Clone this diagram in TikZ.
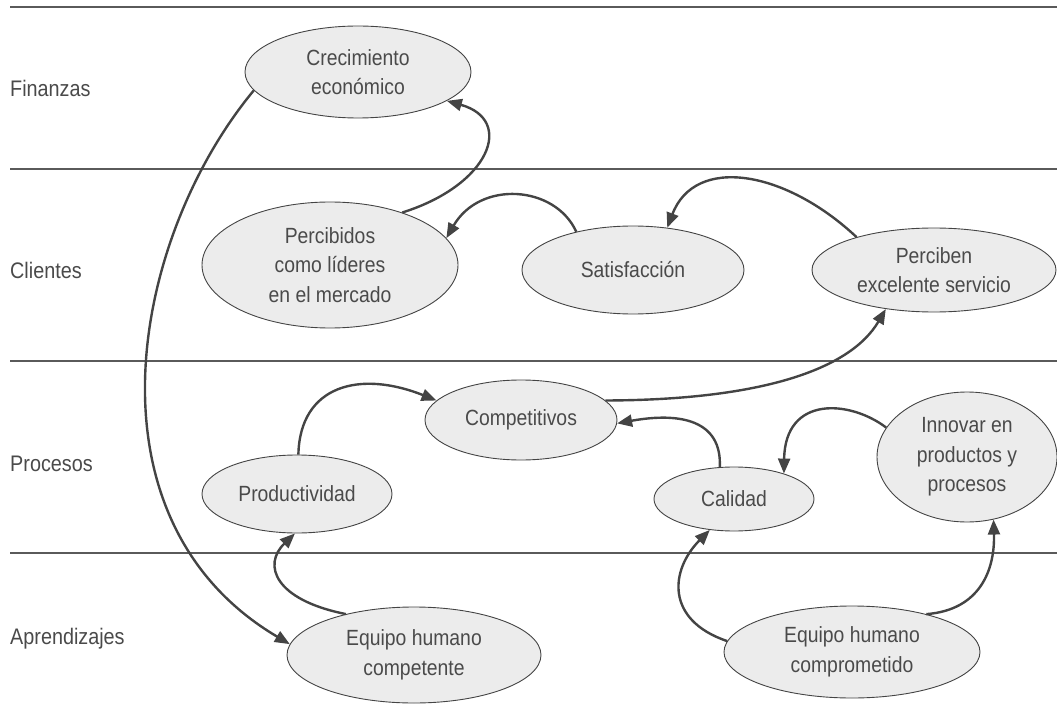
\documentclass[tikz,border=0pt]{standalone}
\usepackage{fontspec}
\setmainfont{Liberation Sans}[FakeStretch=0.88]
\usetikzlibrary{shapes.geometric,arrows.meta}
\definecolor{ink}{HTML}{444444}
\definecolor{ovfill}{HTML}{ECECEC}
\definecolor{lanec}{HTML}{5A5A5A}
\definecolor{txt}{HTML}{4A4A4A}
\begin{document}
\begin{tikzpicture}[x=1pt,y=-1pt,
  oval/.style={ellipse, draw=ink, line width=0.9pt, fill=ovfill, inner sep=0pt,
    align=center, text=txt, font=\fontsize{22}{29.5}\selectfont},
  lane/.style={draw=lanec, line width=2pt},
  lbl/.style={anchor=base west, inner sep=0pt, text=txt, font=\fontsize{22.5}{27}\selectfont},
  conn/.style={draw=ink, line width=2.4pt, -{Triangle[length=15pt,width=12pt]}}]
\useasboundingbox (0,0) rectangle (1057,711);

% lanes
\draw[lane] (10,7.5) -- (1057,7.5);
\draw[lane] (10,169) -- (1057,169);
\draw[lane] (10,361) -- (1057,361);
\draw[lane] (10,553) -- (1057,553);

% row labels
\node[lbl] (lfin) at (10,97) {Finanzas};
\node[lbl] (lcli) at (10,279) {Clientes};
\node[lbl] (lpro) at (10,471) {Procesos};
\node[lbl] (lapr) at (10,644) {Aprendizajes};

% ovals
\node[oval, minimum width=226pt, minimum height=92pt] (cre) at (358,72) {Crecimiento\\econ\'omico};
\node[oval, minimum width=256pt, minimum height=126pt] (per) at (330,265) {Percibidos\\como l\'ideres\\en el mercado};
\node[oval, minimum width=222pt, minimum height=88pt] (sat) at (633,270) {Satisfacci\'on};
\node[oval, minimum width=244pt, minimum height=84pt] (pcb) at (934,270) {Perciben\\excelente servicio};
\node[oval, minimum width=192pt, minimum height=80pt] (comp) at (521,420) {Competitivos};
\node[oval, minimum width=190pt, minimum height=78pt] (prod) at (297,494) {Productividad};
\node[oval, minimum width=160pt, minimum height=64pt] (cal) at (734,499) {Calidad};
\node[oval, minimum width=180pt, minimum height=130pt] (inn) at (967,457) {Innovar en\\productos y\\procesos};
\node[oval, minimum width=254pt, minimum height=96pt] (eqc) at (414,655) {Equipo humano\\competente};
\node[oval, minimum width=256pt, minimum height=92pt] (ecm) at (852,652) {Equipo humano\\comprometido};

% connectors
\draw[conn] (cre.190) .. controls (130,240) and (80,520) .. (eqc.175);
\draw[conn] (per.36) .. controls (490,185) and (515,120) .. (cre.-18);
\draw[conn] (sat.146) .. controls (555,185) and (480,180) .. (per.13);
\draw[conn] (pcb.157) .. controls (785,170) and (695,155) .. (sat.51);
\draw[conn] (comp.13) .. controls (760,400) and (850,370) .. (pcb.219);
\draw[conn] (prod.88) .. controls (300,385) and (360,370) .. (comp.167);
\draw[conn] (cal.114) .. controls (722,420) and (680,412) .. (comp.-2);
\draw[conn] (inn.160) .. controls (850,400) and (785,395) .. (cal.27);
\draw[conn] (eqc.149) .. controls (275,600) and (262,565) .. (prod.267);
\draw[conn] (ecm.175) .. controls (665,620) and (670,570) .. (cal.232);
\draw[conn] (ecm.27) .. controls (980,610) and (995,570) .. (inn.293);
\end{tikzpicture}
\end{document}
